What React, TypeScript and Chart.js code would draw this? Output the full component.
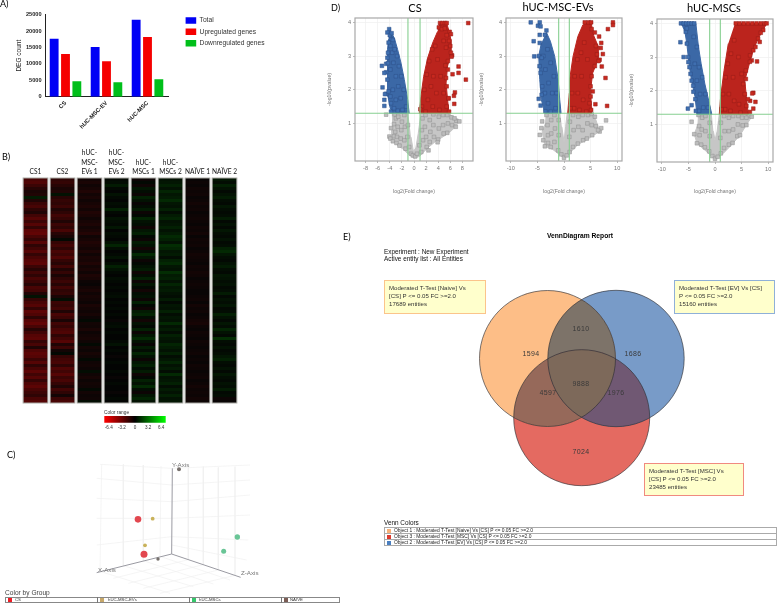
import React, { useEffect, useRef } from "react";
import { Chart, registerables } from "chart.js";

Chart.register(...registerables);
Chart.defaults.font.family = "'Liberation Sans', Arial, sans-serif";
Chart.defaults.animation = false as any;

// ---------- Panel A ----------
const degCategories = ["CS", "hUC-MSC-EV", "hUC-MSC"];
const degTotal = [17689, 15160, 23485];
const degUp = [13000, 10800, 18200];
const degDown = [4700, 4400, 5300];

// ---------- Panel B (log2 ratio, tenths) ----------
const heatLabels = ["CS1", "CS2", ["hUC-", "MSC-", "EVs 1"], ["hUC-", "MSC-", "EVs 2"], ["hUC-", "MSCs 1"], ["hUC-", "MSCs 2"], "NAÏVE 1", "NAÏVE 2"];
const heatCS1 = [
  -20,-22,-16,-10,-6,-8,5,-8,-16,-20,-12,-8,-18,-24,-16,
  -24,-14,-26,-28,-20,-14,-24,-12,-18,-24,-14,-20,-24,-26,-16,
  -10,-18,-12,-20,-16,-10,-20,-18,-8,3,-14,-20,-24,-14,-26,
  -22,-12,-24,-28,-20,-10,-18,-24,-26,-14,-20,-8,-22,-26,-24,
  -16,-24,-12,-20,-26,-18,-24,-14,-22,-26,-20,-16,-12,-20,-24];
const heatCS2 = [
  -12,-14,-10,-6,-8,3,-10,-14,-12,-16,-8,-12,-18,-14,-8,
  -16,-12,-20,-10,-6,1,-14,-18,-12,-20,-16,-22,-14,-10,-18,
  -8,-14,-6,-12,-16,-10,-18,-12,-14,-6,2,-16,-14,-18,-8,
  -20,-16,-6,-18,-14,-20,-22,-12,-18,-24,-8,-16,-4,1,-14,
  -18,-20,-12,-22,-18,-24,-16,-20,-14,-8,-18,-12,-4,-16,-20];
const heatEV1 = [
  -4,-6,-3,-5,-8,-4,-6,-3,-5,-7,-4,-8,-6,-3,-5,
  -7,-4,-6,-9,-3,-5,-8,-6,-4,-7,-3,-6,-5,-8,-4,
  -6,-3,-7,-5,-2,-1,-4,-6,-3,-5,-4,-2,-6,-4,-3,
  -5,-2,1,-4,-3,-6,-2,-4,-5,-3,1,-4,-2,-5,-3,
  1,-3,-4,-2,2,-3,-5,-2,-4,-3,1,-4,-2,-3,2];
const heatEV2 = [
  1,2,5,1,0,3,1,0,2,1,6,1,0,3,2,
  1,4,0,2,1,0,3,7,2,0,1,3,0,2,6,
  3,1,0,2,1,0,1,0,1,2,0,1,0,1,0,
  1,0,-1,1,2,0,1,0,0,1,3,0,1,0,-1,
  0,1,0,0,1,0,-1,0,1,0,0,-1,0,1,0];
const heatMSC1 = [
  -2,1,-3,4,2,-2,6,3,-1,2,5,-2,1,7,3,
  2,-3,4,6,1,-2,5,3,-4,2,8,4,-2,1,3,
  5,-3,2,6,-2,4,1,-4,2,3,-2,6,1,-3,5,
  7,2,-4,3,1,6,-2,4,8,3,-1,5,2,7,3,
  -2,4,6,2,5,-3,1,6,3,8,2,-2,4,7,3];
const heatMSC2 = [
  3,4,6,3,7,4,5,8,4,3,6,2,5,7,3,
  4,6,3,5,8,6,3,9,7,4,5,2,6,8,4,
  3,9,5,6,3,7,4,5,3,2,5,1,4,3,6,
  2,4,3,8,3,5,2,6,4,3,7,5,3,6,2,
  4,7,3,5,2,8,3,4,6,2,5,3,6,3,4];
const heatN1 = [
  -1,-2,-1,-3,-2,-3,-1,-2,-4,-2,-3,-1,-2,-3,-2,
  -1,-3,-2,-4,-1,-3,-2,-3,-1,-2,-4,-3,-2,-1,-3,
  -2,-4,-3,-1,-2,-3,-2,-1,-1,-2,-3,-1,-4,-2,-3,
  -1,-2,-4,-5,-2,-1,-3,-2,-1,-3,-2,-1,-2,-3,-1,
  -2,-1,-3,-2,-1,-2,-3,-1,-2,-4,-2,-3,-2,-4,-2];
const heatN2 = [
  4,2,6,3,1,3,5,2,1,4,2,1,2,5,1,
  3,1,4,2,1,3,1,2,6,8,4,2,1,3,5,
  2,1,4,3,2,3,1,2,5,1,3,2,4,1,2,
  6,3,1,4,2,7,3,1,9,2,1,3,1,2,4,
  6,2,1,3,1,4,2,1,3,2,5,1,2,-2,-1];
const heatColumns = [heatCS1, heatCS2, heatEV1, heatEV2, heatMSC1, heatMSC2, heatN1, heatN2];
const rangeTicks = [-6.4, -3.2, 0, 3.2, 6.4];

// ---------- Panel C ----------
const pcaWallLines = [
  [515,165,290,145],[515,215,290,205],[515,265,290,265],[515,320,290,345],[515,115,300,103],
  [483,108,480,380],[430,105,430,392],[370,103,370,407],[305,103,300,424],
  [565,112,565,389],[610,110,610,404],[655,112,655,420],[705,110,705,436],
  [517,115,750,105],[515,165,750,150],[515,215,750,195],[515,265,750,255],[515,320,745,330],[515,345,740,390],
  [483,380,690,450],[430,392,640,462],[370,407,580,470],[300,424,510,490],
  [565,389,340,445],[610,404,385,460],[655,420,430,475],[705,436,480,490],
];
const pcaAxes = [[517,115,515,372],[515,372,290,428],[515,372,722,442]];
const pcaCS = [{ x: 414, y: 268, r: 3.3 }, { x: 432, y: 373, r: 3.5 }];
const pcaEV = [{ x: 458, y: 266, r: 1.9 }, { x: 435, y: 346, r: 1.9 }];
const pcaMSC = [{ x: 712, y: 321, r: 2.7 }, { x: 671, y: 364, r: 2.5 }];
const pcaNaive = [{ x: 537, y: 118, r: 2 }, { x: 474, y: 387, r: 1.7 }];

// ---------- Panel D ----------
const csBlueShape = [[-4.1,3.8],[-3.8,3.72],[-3.24,3.53],[-2.7,3.19],[-2.14,2.79],[-1.6,2.3],[-1.04,1.7],[-.8,1.3],[-3.6,1.3],[-4,1.5],[-4.3,1.8],[-4.3,2.2],[-4.45,2.5],[-4.45,2.9],[-4.3,3.2],[-4.2,3.5]];
const csBluePts = [[-4.1,3.8],[-4.4,3.7],[-4,3.62],[-3.7,3.68],[-3.8,3.5],[-3.5,3.48],[-4.2,3.4],[-3.9,3.3],[-4.3,3.1],[-4.4,2.95],[-5.3,2.71],[-4.6,2.77],[-4.3,2.79],[-4.6,2.52],[-4.9,2.5],[-5.2,2.07],[-4.6,1.88],[-4.8,1.87],[-4.9,1.7],[-4.9,1.52],[-3.8,1.6],[-3.8,1.35],[-4.2,1.95],[-4.4,2.3],[-3.6,3.1],[-3.2,3.2],[-2.8,3],[-3.4,2.8],[-2.5,2.7],[-3,2.4],[-3.9,2.6],[-2.1,2.4],[-2.6,2.1],[-3.5,2],[-1.7,2],[-2.2,1.75],[-3,1.7],[-3.9,1.8],[-1.3,1.5],[-1.9,1.4],[-2.7,1.38],[-3.3,1.45]];
const csRedShape = [[4.18,3.98],[5.4,3.98],[5.8,3.73],[6.1,3.49],[6.1,3.09],[5.55,2.7],[5.3,2.2],[5.55,1.7],[5.8,1.3],[.88,1.3],[1.15,1.8],[1.6,2.4],[2.25,2.94],[3.08,3.39],[3.9,3.73]];
const csRedPts = [[8.96,3.98],[7.36,2.69],[7.36,2.5],[6.37,2.46],[8.57,2.3],[6.76,1.92],[6.6,1.82],[5.7,1.74],[6.65,1.58],[5.8,1.35],[4.3,3.98],[4.7,3.98],[5.1,3.98],[5.4,3.98],[4.1,3.85],[4.6,3.8],[5.1,3.82],[5.9,3.72],[6.1,3.65],[5.4,3.62],[5.8,3.45],[6,3.3],[6.3,3.02],[6.1,3.1],[5.3,3.25],[4.9,3.45],[6.2,2.98],[5.6,2.85],[5.2,2.72],[5.6,2.6],[5.3,2.35],[5.4,2.1],[5.7,1.75],[5.4,1.5],[4.9,1.9],[4.4,2.4],[3.9,2.9],[3.5,3.3],[3,3.2],[2.5,2.85],[3.2,2.4],[2.1,2.45],[2.8,2.1],[3.7,1.9],[1.7,2],[2.3,1.7],[3.1,1.5],[4.2,1.4],[1.3,1.5],[1.9,1.35],[1.05,1.42]];
const csGrayShape = [[-.93,1.3],[-3.6,1.3],[-3.5,1],[-3.75,.72],[-3.5,.47],[-2.8,.36],[-1.9,.25],[-1.04,.1],[0,-.03],[.9,.02],[2.25,.27],[3.6,.47],[5.3,.66],[6.3,.8],[6.9,.92],[7.5,1.06],[6.4,1.2],[5.8,1.3],[1.15,1.3],[.7,.7],[.3,.27],[-.1,.17],[-.5,.6]];
const csGrayPts = [[-4.6,1.26],[-3.8,.86],[-4.07,.61],[-3.9,.55],[-3.5,.47],[-3.3,.62],[-3.1,.75],[-3.3,.98],[-3,1.15],[-3.2,1.27],[-2.6,1.2],[-2.7,.9],[-2.8,.6],[-2.9,.42],[-2.4,.34],[-2.2,.55],[-2.1,.8],[-2,1.05],[-1.6,1.25],[-1.5,.9],[-1.6,.5],[-1.4,.25],[-1.1,.6],[-1,.95],[-.8,.3],[-.5,.1],[-.2,.05],[.2,.02],[.5,.1],[.9,.35],[1.2,.15],[1.5,.5],[1.3,.8],[1.4,1.15],[1.9,1.25],[1.8,.9],[2,.6],[2.1,.3],[2.6,.45],[2.7,.75],[2.6,1.1],[3.2,1.27],[3.2,.95],[3.3,.6],[4,.52],[4.1,.85],[4.1,1.2],[4.8,1.25],[4.8,.95],[4.9,.7],[5.5,.72],[5.6,1],[5.5,1.25],[6.2,1.18],[6.3,.95],[6.9,.9],[7,1.08],[7.5,1.06],[6.7,1.15],[2.4,.2],[3.9,.44]];

const evBlueShape = [[-3.6,3.6],[-3.3,3.7],[-2.56,3.44],[-1.75,2.99],[-1.1,2.3],[-.8,1.7],[-.55,1.3],[-3.6,1.3],[-4.25,1.7],[-4.56,2.3],[-4.75,3],[-4.25,3.39]];
const evBluePts = [[-6.25,4],[-4.56,4],[-4.9,3.9],[-4.4,3.88],[-4.56,3.63],[-3.6,3.63],[-3.3,3.76],[-5.7,3.44],[-5.6,2.99],[-4.56,3.39],[-4.75,3],[-4.6,2.7],[-4.4,2.5],[-4.75,1.73],[-4.4,1.53],[-3.5,1.36],[-4.1,2.1],[-3.9,3],[-3.1,3.2],[-3.5,2.6],[-2.5,2.8],[-2.9,2.2],[-3.6,1.9],[-1.9,2.4],[-2.2,1.9],[-3,1.6],[-1.4,1.9],[-1.6,1.45],[-2.5,1.35],[-4.2,2.95],[-4.2,1.85]];
const evRedShape = [[3.9,3.98],[5.1,3.98],[5.6,3.6],[6.4,3.3],[6.4,2.9],[5.4,2.5],[5,2],[5.2,1.3],[.7,1.3],[1,1.9],[1.06,2.3],[1.7,2.99],[2.6,3.58],[3.56,3.93]];
const evRedPts = [[3.9,4],[4.6,4],[5.1,4],[9.2,4],[9.2,3.92],[8.25,3.8],[6.6,3.58],[7,3.39],[6.9,3.24],[7.3,3.06],[6.7,2.89],[7.1,2.69],[7.8,2.35],[5.4,1.95],[5,1.8],[5.9,1.57],[8.1,1.52],[5.1,1.4],[5.2,3.8],[5.8,3.7],[6,3.3],[6.2,3.05],[6.5,2.85],[5.8,2.7],[5.2,2.4],[5,2.1],[4.8,1.6],[4.4,2.9],[3.8,3.4],[3.2,3.1],[2.5,2.9],[3.3,2.4],[2,2.4],[2.6,1.9],[3.6,1.7],[1.5,1.9],[1.9,1.45],[2.9,1.4],[1.2,1.45],[4.2,1.35]];
const evGrayShape = [[-.7,1.3],[-3.3,1.3],[-3.5,1],[-4.1,.75],[-3.6,.32],[-2.06,.22],[0,-.03],[1.06,.12],[2.6,.37],[4.2,.51],[6.7,.76],[6,1.1],[5.4,1.3],[.6,1.3],[.3,.9],[0,.45],[-.4,.9]];
const evGrayPts = [[-4.1,1.06],[-4.25,.86],[-4.56,.66],[-3.6,.32],[-3.9,.5],[-3.3,1.25],[-3.1,.95],[-3,.65],[-3,.42],[-2.5,.3],[-2.4,.7],[-2.4,1.1],[-1.8,1.25],[-1.7,.85],[-1.8,.45],[-1.1,.2],[-1,.65],[-1,1.1],[-.5,.08],[0,-.02],[.5,.05],[1.06,.15],[1,.6],[1.1,1.05],[1.7,1.25],[1.8,.8],[1.7,.3],[2.6,.4],[2.7,.9],[2.7,1.2],[3.5,1.25],[3.5,.8],[3.6,.5],[4.3,.55],[4.4,1],[4.5,1.25],[5.2,1.28],[5.2,.95],[5.3,.65],[5.8,1.2],[6,.92],[6.7,.76],[7,.86],[7.9,1.09],[6.4,.8]];

const mscBlueShape = [[-6.4,4],[-3.6,4],[-3.1,3.3],[-2.6,2.8],[-1.9,2.2],[-1.06,1.62],[-.6,1.3],[-3.4,1.3],[-3.75,1.82],[-4.4,2.3],[-4.8,2.7],[-5.3,3.4],[-5.6,3.7]];
const mscBluePts = [[-6.4,4],[-5.9,4],[-5.4,4],[-4.9,4],[-4.4,4],[-3.9,4],[-5.5,3.75],[-5.3,3.85],[-6.5,3.44],[-5.3,3.4],[-5.9,3],[-5.06,3],[-5,2.85],[-4.8,2.7],[-5.1,1.47],[-4.4,1.57],[-4.06,1.97],[-4.4,2.3],[-4.6,2.5],[-4.1,2.15],[-3.7,1.75],[-3.6,1.4],[-4,3.6],[-3.4,3.3],[-3.8,2.8],[-3,2.7],[-3.4,2.3],[-2.4,2.4],[-2.8,1.9],[-1.8,1.9],[-2.2,1.5],[-3,1.4],[-1.3,1.5]];
const mscRedShape = [[3.75,4],[9.7,4],[9.06,3.8],[8.1,3.55],[7.2,3.2],[6.56,2.86],[5.6,2.3],[5.9,1.82],[6.25,1.3],[.8,1.3],[1.06,1.82],[1.7,2.6],[2.5,3.4]];
const mscRedPts = [[3.9,4],[4.6,4],[5.4,4],[6.2,4],[7,4],[7.8,4],[8.6,4],[9.3,4],[9.7,4],[9.06,3.8],[8.6,3.72],[8.1,3.55],[8.4,3.45],[7.2,3.2],[7.6,3.3],[6.6,3.05],[6.9,2.9],[7.9,2.87],[6.56,2.86],[5.8,2.6],[5.8,2.35],[5.3,2.2],[7.2,1.94],[7,1.92],[7.6,1.67],[7.2,1.47],[6.6,1.7],[6.2,1.75],[6.56,1.37],[5.9,1.55],[5.6,1.9],[5,2.5],[4.4,3],[3.6,3.5],[3,3.1],[2.4,2.8],[3.4,2.4],[2,2.4],[2.6,1.9],[3.6,1.7],[4.5,1.6],[1.5,1.9],[1.9,1.45],[2.9,1.4],[1.2,1.45],[4.8,1.35]];
const mscGrayShape = [[-.6,1.3],[-3.1,1.3],[-3.2,1],[-3.9,.71],[-3.4,.44],[-1.56,.19],[0,-.04],[1.56,.14],[3.1,.39],[4.7,.68],[5.9,.98],[6.9,1.23],[6.25,1.3],[.8,1.3],[.4,.8],[0,.53],[-.3,.8]];
const mscGrayPts = [[-4.4,1.08],[-3.1,1.28],[-3,.95],[-3.9,.71],[-3.4,.44],[-2.9,.68],[-2.6,.4],[-2.5,.85],[-2.4,1.2],[-1.8,1.25],[-1.8,.8],[-1.9,.32],[-1.1,.2],[-1,.65],[-1,1.05],[-.5,.06],[0,-.02],[.5,.04],[1.1,.14],[1,.6],[1.1,1.05],[1.7,1.25],[1.8,.8],[1.7,.3],[2.6,.4],[2.6,.8],[2.6,1.2],[3.4,1.25],[3.4,.85],[3.3,.45],[4.2,.65],[4.3,1],[4.4,1.25],[5.1,1.2],[5.2,.97],[4.7,.68],[5.9,.98],[6.3,1.25],[5.9,1.2],[6.9,1.23]];
const csXTicks = [-8, -6, -4, -2, 0, 2, 4, 6, 8];
const wideXTicks = [-10, -5, 0, 5, 10];
const volcanoYTicks = [1, 2, 3, 4];

// ---------- Panel E ----------
const vennCircles = [
  { x: 547.5, y: 358.5, r: 68 },
  { x: 616, y: 358.5, r: 68.2 },
  { x: 581.7, y: 417.7, r: 68 },
];
const vennColors = ["#fdbe87", "#789bc8", "#e46a61"];
const vennCounts = [
  { t: "1610", x: 581.3, y: 329.3 }, { t: "1594", x: 530.7, y: 354.3 }, { t: "1686", x: 633, y: 354.3 },
  { t: "9888", x: 581.3, y: 384 }, { t: "4597", x: 547.7, y: 393.3 }, { t: "1976", x: 615.7, y: 393.3 }, { t: "7024", x: 581.3, y: 452.3 },
];

const toXY = (a: number[][]) => a.map(([x, y]) => ({ x, y }));

function useChart(make: () => any) {
  const ref = useRef<HTMLCanvasElement>(null);
  useEffect(() => {
    const c = new Chart(ref.current as any, make());
    return () => c.destroy();
  }, []);
  return ref;
}

function Cv({ r, x, y, w, h }: any) {
  return <canvas ref={r} width={w} height={h} style={{ position: "absolute", left: x, top: y, width: w, height: h, display: "block" }} />;
}

function T({ x, y, s, c = "#000", f = "'Liberation Sans', sans-serif", b, center, children, ls }: any) {
  return (
    <div style={{ position: "absolute", left: x, top: y - s * 0.6, fontSize: s, lineHeight: 1.2 + "", fontFamily: f, color: c, fontWeight: b ? 700 : 400, whiteSpace: "nowrap", transform: center ? "translateX(-50%)" : undefined, letterSpacing: ls, willChange: "transform" }}>
      {children}
    </div>
  );
}

function BarPanel() {
  const ref = useChart(() => ({
    type: "bar",
    data: {
      labels: degCategories,
      datasets: [
        { label: "Total", data: degTotal, backgroundColor: "#0000f5" },
        { label: "Upregulated genes", data: degUp, backgroundColor: "#f50000" },
        { label: "Downregulated genes", data: degDown, backgroundColor: "#00bf1a" },
      ],
    },
    plugins: [{
      id: "legendSpot",
      afterLayout(chart: any) {
        const l = chart.legend;
        l.left = 181; l.right = 299; l.top = 12.6; l.bottom = 60;
      },
    }],
    options: {
      responsive: false, animation: false, devicePixelRatio: 1,
      datasets: { bar: { barPercentage: 0.78, categoryPercentage: 0.83 } },
      layout: { autoPadding: false, padding: { top: 14.7, right: 42, left: 0, bottom: 0 } },
      plugins: {
        tooltip: { enabled: false },
        legend: { position: "right", align: "start", maxWidth: 90, labels: { boxWidth: 10.6, boxHeight: 6.5, padding: 4.6, color: "#333", font: { size: 6.7 } } },
      },
      scales: {
        x: {
          grid: { display: false, drawTicks: true, tickLength: 2, tickColor: "#222" },
          border: { color: "#222", width: 1 },
          ticks: { maxRotation: 45, minRotation: 45, color: "#222", font: { size: 5.8, weight: "bold" }, padding: 1, autoSkip: false },
          afterFit(s: any) { s.height = 38.3; },
        },
        y: {
          min: 0, max: 25000,
          grid: { display: false, tickLength: 2.5, tickColor: "#222" },
          border: { color: "#222", width: 1 },
          ticks: { stepSize: 5000, color: "#222", font: { size: 5.6, weight: "bold" }, padding: 1, callback: (v: any) => String(v) },
          title: { display: true, text: "DEG count", color: "#222", font: { size: 6.5 }, padding: { top: 15, bottom: 0 } },
          afterFit(s: any) { s.width = 45; },
        },
      },
    },
  }));
  return <Cv r={ref} x={0} y={0} w={300} h={135} />;
}

function heatColor(v: number | undefined) {
  const n = v ?? 0;
  return n < 0 ? `rgb(${Math.min(255, -n * 3.3 + 6)},5,5)` : `rgb(3,${Math.min(255, n * 4.6 + 4)},3)`;
}

function HeatPanel() {
  const ref = useChart(() => {
    const rows = heatCS1.length;
    const datasets: any[] = [];
    for (let r = 0; r < rows; r++) {
      datasets.push({
        data: heatColumns.map(() => 1),
        backgroundColor: heatColumns.map((col) => heatColor(col[r])),
        barPercentage: 1, categoryPercentage: 0.915, borderWidth: 0, stack: "all",
      });
    }
    return {
      type: "bar",
      data: { labels: heatLabels, datasets },
      plugins: [{
        id: "columnFrames",
        afterDatasetsDraw(chart: any) {
          const { ctx, chartArea: a } = chart;
          const els = chart.getDatasetMeta(0).data;
          ctx.save();
          ctx.strokeStyle = "#a9a9a4";
          ctx.lineWidth = 1;
          els.forEach((e: any) => ctx.strokeRect(e.x - e.width / 2, a.top, e.width, a.bottom - a.top));
          ctx.restore();
        },
      }],
      options: {
        responsive: false, animation: false, devicePixelRatio: 1,
        layout: { autoPadding: false, padding: { left: 22, right: 7, bottom: 7, top: 0 } },
        plugins: { legend: { display: false }, tooltip: { enabled: false } },
        scales: {
          x: {
            position: "top", stacked: true,
            grid: { display: false, drawTicks: false }, border: { display: false },
            ticks: { maxRotation: 0, autoSkip: false, color: "#111", padding: 1, font: { family: "Lato, sans-serif", size: 6.6, lineHeight: 1.45 } },
            afterFit(s: any) { s.height = 38; },
          },
          y: { stacked: true, display: false, reverse: true, min: 0, max: rows },
        },
      },
    };
  });
  return <Cv r={ref} x={0} y={140} w={245} h={270} />;
}

function RangePanel() {
  const ref = useChart(() => ({
    type: "bar",
    data: {
      labels: ["range"],
      datasets: [{
        data: [[-7.5, 7.5]],
        barPercentage: 1, categoryPercentage: 1,
        backgroundColor(c: any) {
          const a = c.chart.chartArea;
          if (!a) return "#000";
          const g = c.chart.ctx.createLinearGradient(a.left, 0, a.right, 0);
          g.addColorStop(0, "#ff0000");
          g.addColorStop(0.5, "#000000");
          g.addColorStop(1, "#00ff00");
          return g;
        },
      }],
    },
    options: {
      indexAxis: "y", responsive: false, animation: false, devicePixelRatio: 1,
      layout: { autoPadding: false, padding: { left: 8.3, right: 10.3, top: 11, bottom: 0 } },
      plugins: { legend: { display: false }, tooltip: { enabled: false } },
      scales: {
        y: { display: false },
        x: {
          min: -7.5, max: 7.5,
          grid: { display: false, tickLength: 2, tickColor: "#666" }, border: { display: false },
          ticks: { color: "#333", font: { size: 4.6 }, padding: 0, maxRotation: 0, autoSkip: false },
          afterBuildTicks(s: any) { s.ticks = rangeTicks.map((value) => ({ value })); },
          afterFit(s: any) { s.height = 12.3; },
        },
      },
    },
  }));
  return <Cv r={ref} x={96} y={405} w={80} h={30} />;
}

function PcaPanel() {
  const ref = useChart(() => {
    const seg = (l: number[], color: string, width: number) => ({
      type: "scatter", showLine: true, pointRadius: 0, borderColor: color, borderWidth: width,
      data: [{ x: l[0], y: l[1] }, { x: l[2], y: l[3] }],
    });
    return {
      type: "bubble",
      data: {
        datasets: [
          { label: "CS", data: pcaCS, backgroundColor: "#e2474f", borderWidth: 0 },
          { label: "hUC-MSC-EVs", data: pcaEV, backgroundColor: "#c9b25a", borderWidth: 0 },
          { label: "hUC-MSCs", data: pcaMSC, backgroundColor: "#69c596", borderWidth: 0 },
          { label: "NAIVE", data: pcaNaive, backgroundColor: "#77716d", borderWidth: 0 },
          ...pcaAxes.map((l) => seg(l, "#9a9aa2", 1)),
          ...pcaWallLines.map((l) => seg(l, "#f1f1f1", 0.7)),
        ],
      },
      options: {
        responsive: false, animation: false, devicePixelRatio: 1,
        layout: { autoPadding: false, padding: 0 },
        plugins: { legend: { display: false }, tooltip: { enabled: false } },
        scales: {
          x: { type: "linear", display: false, min: 0, max: 1020 },
          y: { type: "linear", display: false, min: 0, max: 519, reverse: true },
        },
      },
    };
  });
  return <Cv r={ref} x={0} y={430} w={340} h={173} />;
}

function Volcano({ x, w, areaLeft, areaTop, areaBottom, xRange, xTicks, blue, bluePts, red, redPts, gray, grayPts }: any) {
  const h = 195;
  const ref = useChart(() => {
    const line = (a: number[][]) => ({ data: toXY(a), showLine: true, pointRadius: 0, borderColor: "#86cf90", borderWidth: 1.1, tension: 0 });
    const pts = (a: number[][], bg: string, bd: string) => ({ data: toXY(a), pointStyle: "rect", pointRadius: 2.6, pointBackgroundColor: bg, pointBorderColor: bd, pointBorderWidth: 0.5, clip: false });
    const shape = (a: number[][], bg: string) => ({ data: toXY(a), showLine: true, fill: "shape", backgroundColor: bg, borderColor: bg, borderWidth: 1, pointRadius: 0, tension: 0 });
    return {
      type: "scatter",
      data: {
        datasets: [
          line([[-1, -0.2], [-1, 4.2]]), line([[1, -0.2], [1, 4.2]]), line([[xRange[0], 1.3], [xRange[1], 1.3]]),
          pts(bluePts, "#3f6fb0", "#2c4f86"), shape(blue, "#3b68a6"),
          pts(redPts, "#c8291f", "#931d18"), shape(red, "#bb241d"),
          pts(grayPts, "#bdbdbd", "#8f8f8f"), shape(gray, "#c6c6c6"),
        ],
      },
      plugins: [{
        id: "plotFrame",
        afterDraw(chart: any) {
          const { ctx, chartArea: a } = chart;
          ctx.save();
          ctx.strokeStyle = "#a8a8a8";
          ctx.lineWidth = 1.2;
          ctx.strokeRect(a.left, a.top, a.right - a.left, a.bottom - a.top);
          ctx.restore();
        },
      }],
      options: {
        responsive: false, animation: false, devicePixelRatio: 1,
        layout: { autoPadding: false, padding: { top: areaTop, right: x + w - areaLeft - (xRange[2]), left: 0, bottom: 0 } },
        plugins: { legend: { display: false }, tooltip: { enabled: false } },
        scales: {
          x: {
            type: "linear", min: xRange[0], max: xRange[1],
            grid: { color: "#f1f1f1", lineWidth: 0.8, tickLength: 2, tickColor: "#aaa" }, border: { display: false },
            ticks: { color: "#777", font: { size: 5.6 }, padding: 2, maxRotation: 0 },
            title: { display: true, text: "log2(Fold change)", color: "#777", font: { size: 5.2 }, padding: 0 },
            afterBuildTicks(s: any) { s.ticks = xTicks.map((value: number) => ({ value })); },
            afterFit(s: any) { s.height = h - areaBottom; },
          },
          y: {
            type: "linear", min: -0.116, max: 4.13,
            grid: { color: "#f1f1f1", lineWidth: 0.8, tickLength: 2, tickColor: "#aaa" }, border: { display: false },
            ticks: { color: "#777", font: { size: 5.6 }, padding: 2 },
            title: { display: true, text: "-log10(pvalue)", color: "#777", font: { size: 5.2 }, padding: 0 },
            afterBuildTicks(s: any) { s.ticks = volcanoYTicks.map((value) => ({ value })); },
            afterFit(s: any) { s.width = areaLeft - x; },
          },
        },
      },
    };
  });
  return <Cv r={ref} x={x} y={0} w={w} h={h} />;
}

function VennPanel() {
  const ref = useChart(() => ({
    type: "bubble",
    data: {
      datasets: vennCircles.map((c, i) => ({ data: [c], backgroundColor: vennColors[i], borderWidth: 0 })),
    },
    plugins: [{
      id: "vennOverlaps",
      afterDatasetsDraw(chart: any) {
        const { ctx } = chart;
        const el = (i: number) => chart.getDatasetMeta(i).data[0];
        const path = (i: number) => { const e = el(i); ctx.beginPath(); ctx.arc(e.x, e.y, e.options.radius, 0, Math.PI * 2); };
        const region = (ids: number[], color: string) => {
          ctx.save();
          ids.slice(1).forEach((i) => { path(i); ctx.clip(); });
          path(ids[0]);
          ctx.fillStyle = color;
          ctx.fill();
          ctx.restore();
        };
        region([0, 1], "#7d7369");
        region([0, 2], "#96695a");
        region([1, 2], "#705873");
        region([0, 1, 2], "#7d695a");
        ctx.save();
        ctx.strokeStyle = "rgba(45,45,50,.8)";
        ctx.lineWidth = 0.8;
        [0, 1, 2].forEach((i) => { path(i); ctx.stroke(); });
        ctx.restore();
      },
    }],
    options: {
      responsive: false, animation: false, devicePixelRatio: 1,
      layout: { autoPadding: false, padding: 0 },
      plugins: { legend: { display: false }, tooltip: { enabled: false } },
      scales: {
        x: { type: "linear", display: false, min: 470, max: 700 },
        y: { type: "linear", display: false, min: 280, max: 500, reverse: true },
      },
    },
  }));
  return <Cv r={ref} x={470} y={280} w={230} h={220} />;
}

function NoteBox({ x, y, w, h, c, lines }: any) {
  return (
    <>
      <div style={{ position: "absolute", left: x, top: y, width: w, height: h, boxSizing: "border-box", background: "#ffffcc", border: `1px solid ${c}` }} />
      <div style={{ position: "absolute", left: x + 4.5, top: y + 4, fontSize: 6.1, lineHeight: "8px", fontFamily: "'Liberation Sans', sans-serif", color: "#333", whiteSpace: "nowrap", willChange: "transform" }}>
        {lines.map((l: string) => <div key={l}>{l}</div>)}
      </div>
    </>
  );
}

const groupLegend = [
  { t: "CS", c: "#ee1c25", x: 8, tx: 15 },
  { t: "hUC-MSC-EVs", c: "#c7a86a", x: 100, tx: 108 },
  { t: "hUC-MSCs", c: "#35c66b", x: 192, tx: 199 },
  { t: "NAIVE", c: "#7b5d55", x: 284, tx: 290 },
];
const vennLegend = [
  { t: "Object 1 : Moderated T-Test [Naive] Vs [CS] P <= 0.05 FC >=2.0", c: "#f7b27a" },
  { t: "Object 3 : Moderated T-Test [MSC] Vs [CS] P <= 0.05 FC >=2.0", c: "#dc3a2e" },
  { t: "Object 2 : Moderated T-Test [EV] Vs [CS] P <= 0.05 FC >=2.0", c: "#4a7fc0" },
];
const lato = "Lato, sans-serif";

export default function App() {
  return (
    <div style={{ position: "absolute", left: 0, top: 0, width: 777, height: 603, overflow: "hidden", background: "#fff", filter: "blur(0.3px)" }}>
      <BarPanel />
      <HeatPanel />
      <RangePanel />
      <PcaPanel />
      <Volcano x={326} w={150} areaLeft={355} areaTop={18} areaBottom={161} xRange={[-9.75, 9.75, 118]} xTicks={csXTicks}
        blue={csBlueShape} bluePts={csBluePts} red={csRedShape} redPts={csRedPts} gray={csGrayShape} grayPts={csGrayPts} />
      <Volcano x={478} w={147} areaLeft={506} areaTop={18} areaBottom={161} xRange={[-10.9, 10.9, 116]} xTicks={wideXTicks}
        blue={evBlueShape} bluePts={evBluePts} red={evRedShape} redPts={evRedPts} gray={evGrayShape} grayPts={evGrayPts} />
      <Volcano x={628} w={148} areaLeft={657} areaTop={19} areaBottom={162} xRange={[-10.9, 10.9, 116]} xTicks={wideXTicks}
        blue={mscBlueShape} bluePts={mscBluePts} red={mscRedShape} redPts={mscRedPts} gray={mscGrayShape} grayPts={mscGrayPts} />
      <VennPanel />

      <T x={0} y={4} s={9} f={lato}>A)</T>
      <T x={2} y={157} s={9} f={lato}>B)</T>
      <T x={7} y={455} s={9} f={lato}>C)</T>
      <T x={331} y={8} s={9} f={lato}>D)</T>
      <T x={343} y={237} s={9} f={lato}>E)</T>

      <T x={415} y={8} s={11} f={lato} center>CS</T>
      <T x={558} y={7} s={11} f={lato} center>hUC-MSC-EVs</T>
      <T x={714} y={8} s={11} f={lato} center>hUC-MSCs</T>

      <T x={104} y={413} s={4.8} c="#333">Color range</T>

      <T x={172} y={465} s={6.2} c="#777">Y-Axis</T>
      <T x={98} y={570} s={6.2} c="#777">X-Axis</T>
      <T x={241} y={573} s={6.2} c="#777">Z-Axis</T>
      <T x={5} y={593} s={6.6} c="#444">Color by Group</T>
      <div style={{ position: "absolute", left: 5, top: 597, width: 335, height: 6, boxSizing: "border-box", border: "1px solid #888" }} />
      {[97, 189, 281].map((x) => <div key={x} style={{ position: "absolute", left: x, top: 597, width: 1, height: 6, background: "#777" }} />)}
      {groupLegend.map((g) => (
        <React.Fragment key={g.t}>
          <div style={{ position: "absolute", left: g.x, top: 598, width: 4, height: 4, background: g.c }} />
          <T x={g.tx} y={600} s={4.3} c="#333">{g.t}</T>
        </React.Fragment>
      ))}

      <T x={580} y={236.5} s={6.7} b center>VennDiagram Report</T>
      <T x={384} y={252} s={6.4} c="#111">Experiment : New Experiment</T>
      <T x={384} y={259} s={6.4} c="#111">Active entity list : All Entities</T>
      <NoteBox x={384} y={280} w={102} h={34} c="#fbc48b" lines={["Moderated T-Test [Naive] Vs", "[CS] P <= 0.05 FC >=2.0", "17689 entities"]} />
      <NoteBox x={674} y={280} w={101} h={34} c="#8fb0d8" lines={["Moderated T-Test [EV] Vs [CS]", "P <= 0.05 FC >=2.0", "15160 entities"]} />
      <NoteBox x={644} y={463} w={100} h={33} c="#f08a80" lines={["Moderated T-Test [MSC] Vs", "[CS] P <= 0.05 FC >=2.0", "23485 entities"]} />
      {vennCounts.map((n) => <T key={n.t} x={n.x} y={n.y} s={7} c="#3a3a3a" center ls="0.4px">{n.t}</T>)}

      <T x={384} y={523} s={6.4} c="#111">Venn Colors</T>
      {vennLegend.map((v, i) => (
        <React.Fragment key={v.t}>
          <div style={{ position: "absolute", left: 384, top: 527 + i * 6, width: 393, height: 7, boxSizing: "border-box", border: "1px solid #aaa" }} />
          <div style={{ position: "absolute", left: 387, top: 529 + i * 6, width: 4, height: 3.5, background: v.c }} />
          <T x={394} y={530.7 + i * 6} s={4.9} c="#222">{v.t}</T>
        </React.Fragment>
      ))}
    </div>
  );
}
